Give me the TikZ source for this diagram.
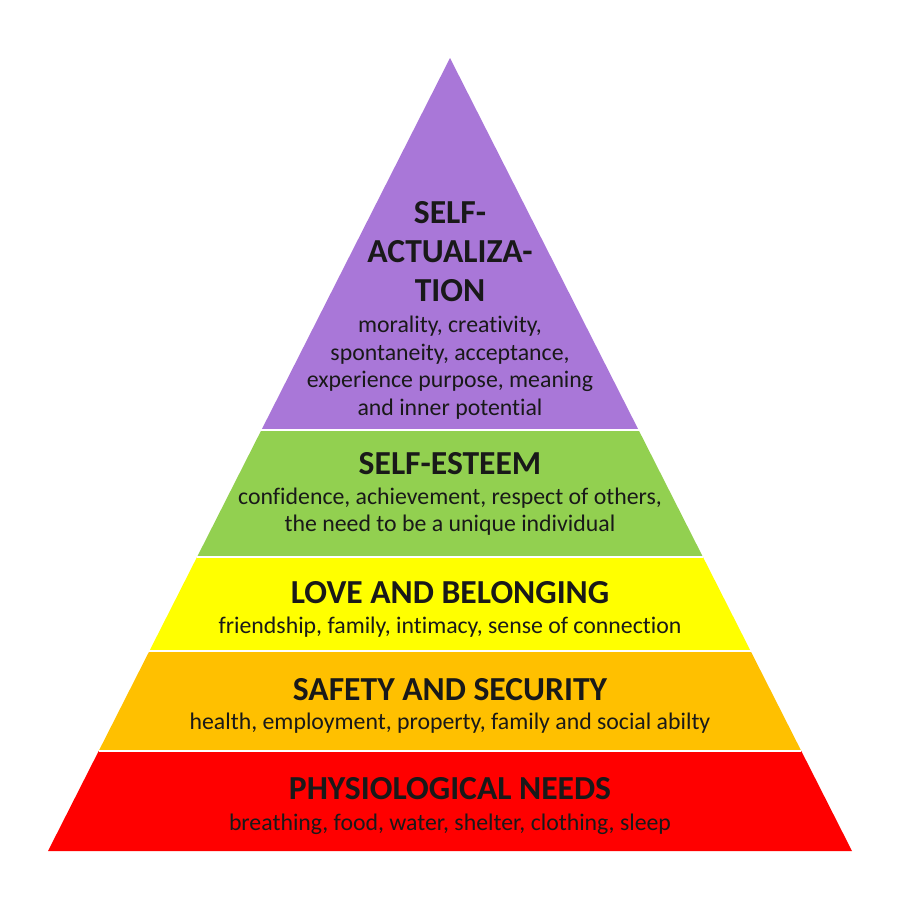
\documentclass[tikz,border=0pt]{standalone}
\usepackage{fontspec}
\setmainfont{Carlito}[Ligatures=NoCommon]
\usetikzlibrary{calc}
\definecolor{cpurple}{HTML}{A977D8}
\definecolor{cgreen}{HTML}{92D050}
\definecolor{cyellow}{HTML}{FFFF00}
\definecolor{corange}{HTML}{FFC000}
\definecolor{cred}{HTML}{FF0000}
\tikzset{
  ttl/.style={font=\fontsize{33.6}{39}\selectfont\bfseries, text=black!90, align=center, inner sep=0pt},
  dsc/.style={font=\fontsize{23.8}{27.6}\selectfont, text=black!90, align=center, inner sep=0pt},
  sep/.style={white, line width=2pt}
}
\begin{document}
\begin{tikzpicture}[x=1pt,y=-1pt]
\useasboundingbox (0,0) rectangle (900,900);
\coordinate (A) at (450,58);
\coordinate (BL) at (48,851);
\coordinate (BR) at (852,851);
\coordinate (L1) at ($(A)!0.4691!(BL)$); \coordinate (R1) at ($(A)!0.4691!(BR)$);
\coordinate (L2) at ($(A)!0.6293!(BL)$); \coordinate (R2) at ($(A)!0.6293!(BR)$);
\coordinate (L3) at ($(A)!0.7478!(BL)$); \coordinate (R3) at ($(A)!0.7478!(BR)$);
\coordinate (L4) at ($(A)!0.8739!(BL)$); \coordinate (R4) at ($(A)!0.8739!(BR)$);
\fill[cpurple] (A) -- (L1) -- (R1) -- cycle;
\fill[cgreen] (L1) -- (L2) -- (R2) -- (R1) -- cycle;
\fill[cyellow] (L2) -- (L3) -- (R3) -- (R2) -- cycle;
\fill[corange] (L3) -- (L4) -- (R4) -- (R3) -- cycle;
\fill[cred] (L4) -- (BL) -- (BR) -- (R4) -- cycle;
\draw[sep] (L1) -- (R1);
\draw[sep] (L2) -- (R2);
\draw[sep] (L3) -- (R3);
\draw[sep] (L4) -- (R4);
\node[ttl] (t1) at (450,252) {SELF-\\ACTUALIZA-\\TION};
\node[dsc] (d1) at (450,367.5) {morality, creativity,\\spontaneity, acceptance,\\experience purpose, meaning\\and inner potential};
\node[ttl] (t2) at (450,464) {SELF-ESTEEM};
\node[dsc] (d2) at (450,511.5) {confidence, achievement, respect of others,\\the need to be a unique individual};
\node[ttl] (t3) at (450,593) {LOVE AND BELONGING};
\node[dsc] (d3) at (450,627) {friendship, family, intimacy, sense of connection};
\node[ttl] (t4) at (450,690) {SAFETY AND SECURITY};
\node[dsc] (d4) at (450,723) {health, employment, property, family and social abilty};
\node[ttl] (t5) at (450,789) {PHYSIOLOGICAL NEEDS};
\node[dsc] (d5) at (450,824) {breathing, food, water, shelter, clothing, sleep};
\end{tikzpicture}
\end{document}
